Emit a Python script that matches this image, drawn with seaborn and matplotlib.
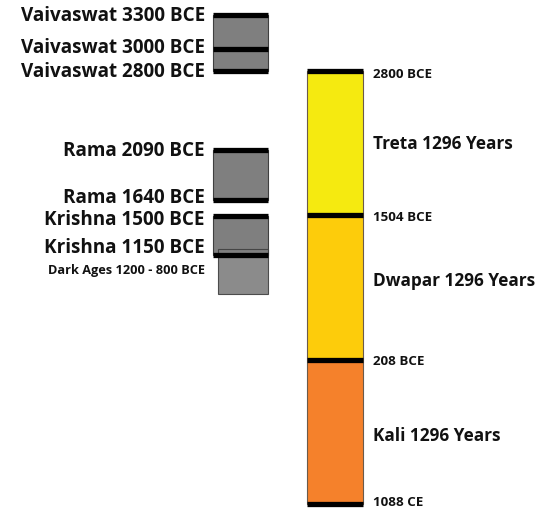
import matplotlib
matplotlib.use("Agg")
import matplotlib.pyplot as plt
import seaborn as sns

# years as signed numbers: BCE negative, CE positive
event_labels = [
    "Vaivaswat 3300 BCE", "Vaivaswat 3000 BCE", "Vaivaswat 2800 BCE",
    "Rama 2090 BCE", "Rama 1640 BCE",
    "Krishna 1500 BCE", "Krishna 1150 BCE",
]
event_years = [-3300, -3000, -2800, -2090, -1640, -1500, -1150]

# gray ranges on the left (start, end)
range_starts = [-3300, -2090, -1500]
range_ends = [-2800, -1640, -1150]

dark_label = "Dark Ages 1200 - 800 BCE"
dark_start = -1200
dark_end = -800

yuga_names = ["Treta 1296 Years", "Dwapar 1296 Years", "Kali 1296 Years"]
yuga_starts = [-2800, -1504, -208]
yuga_ends = [-1504, -208, 1088]
yuga_colors = ["#f5ea10", "#fdcc0b", "#f5812b"]
boundary_labels = ["2800 BCE", "1504 BCE", "208 BCE", "1088 CE"]
boundary_years = [-2800, -1504, -208, 1088]

sns.set_theme(style="white")
plt.rcParams["font.family"] = ["Open Sans", "DejaVu Sans"]

fig = plt.figure(figsize=(5.45, 5.1), dpi=100)
ax = fig.add_axes([0, 0, 1, 1])
ax.set_xlim(0, 545)
ax.set_ylim(1133, -3447)
ax.axis("off")

gray = "#7f7f7f"
edge = "#3f3f3f"

# left ranges
for s, e in zip(range_starts, range_ends):
    ax.bar(240.5, e - s, bottom=s, width=55, color=gray, edgecolor=edge,
           linewidth=0.8, zorder=2)
ax.bar(243, dark_end - dark_start, bottom=dark_start, width=50, color=gray,
       edgecolor=edge, linewidth=0.8, alpha=0.9, zorder=3)
ax.hlines(event_years, 213, 268, color="black", linewidth=3.8, zorder=4)

# event labels, small nudges in px to match the layout
nudges = [0, -2, 0, 0, -3, 3, -8]
for lab, yr, dy in zip(event_labels, event_years, nudges):
    ax.annotate(lab, (205, yr), xytext=(0, -dy * 0.72), textcoords="offset points",
                ha="right", va="center", fontsize=13.6, fontweight="bold",
                color="#111111")
ax.annotate(dark_label, (205, (dark_start + dark_end) / 2), xytext=(0, 1.5),
            textcoords="offset points", ha="right", va="center", fontsize=9.2,
            fontweight="bold", color="#111111")

# yuga column
for s, e, c in zip(yuga_starts, yuga_ends, yuga_colors):
    ax.bar(335, e - s, bottom=s, width=56, color=c, edgecolor="#6b5b4b",
           linewidth=0.8, zorder=2)
ax.hlines(boundary_years, 307, 363, color="black", linewidth=3.8, zorder=4)

boundary_nudge = [-2, -1, -1, 2]
for lab, yr, dy in zip(boundary_labels, boundary_years, boundary_nudge):
    ax.annotate(lab, (373, yr), xytext=(0, dy * 0.72), textcoords="offset points",
                ha="left", va="center", fontsize=9.6, fontweight="bold",
                color="#111111")

yuga_label_nudge = [0, 8, -3]
for name, s, e, dy in zip(yuga_names, yuga_starts, yuga_ends, yuga_label_nudge):
    ax.annotate(name, (373, (s + e) / 2), xytext=(0, dy * 0.72),
                textcoords="offset points", ha="left", va="center",
                fontsize=12.4, fontweight="bold", color="#111111")

fig.savefig("out.png", dpi=100)
